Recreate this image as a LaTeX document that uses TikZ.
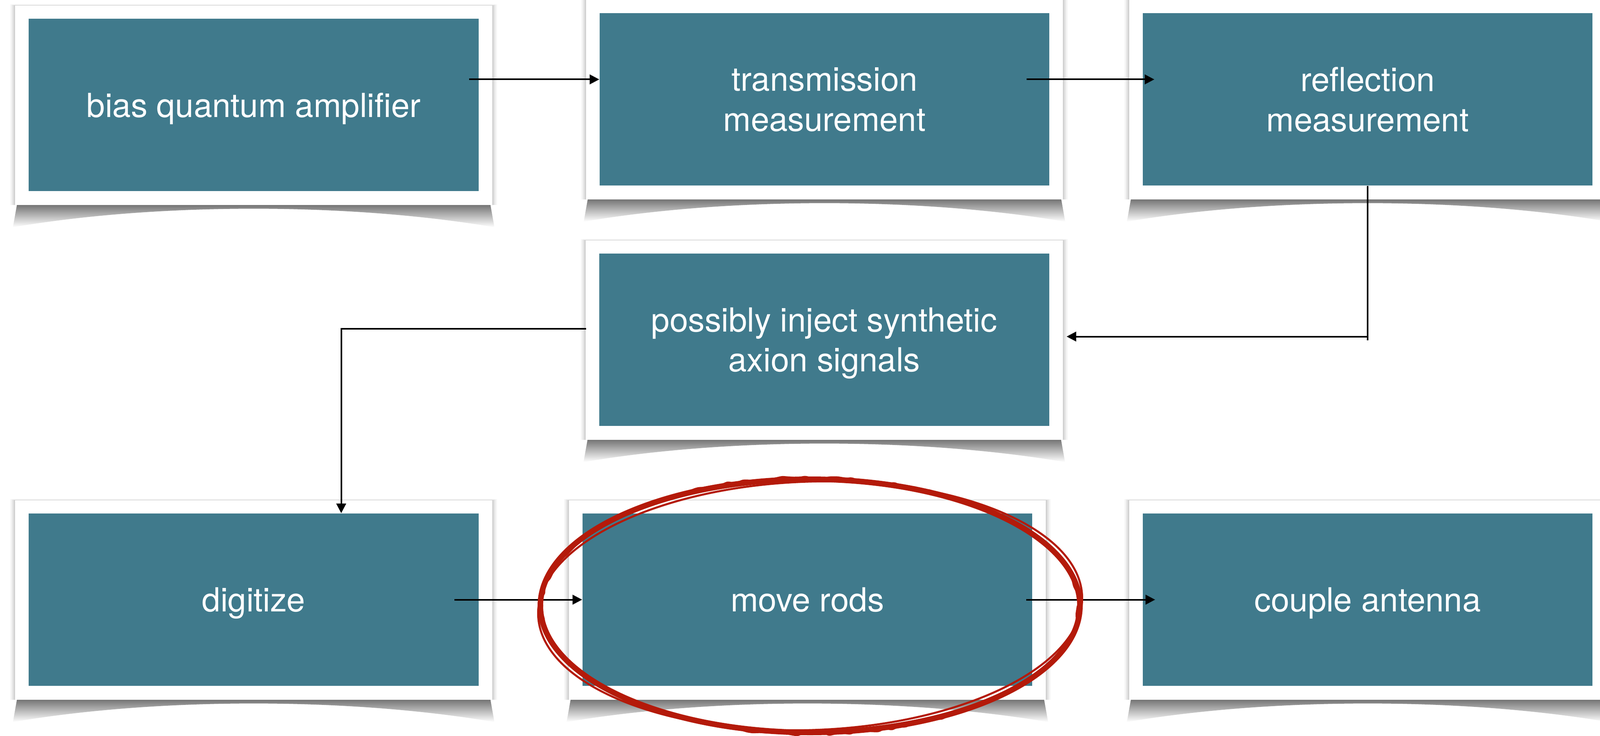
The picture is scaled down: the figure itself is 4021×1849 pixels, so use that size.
\documentclass[tikz,border=0pt]{standalone}
\usepackage{fontspec}
\setmainfont{TeX Gyre Heros}
\usepackage{xcolor}
\usetikzlibrary{arrows.meta, backgrounds, calc, decorations.pathmorphing}
\definecolor{cardteal}{RGB}{64, 122, 140}
\definecolor{markred}{RGB}{180, 26, 10}

\begin{document}
\begin{tikzpicture}[x=0.01cm, y=-0.01cm,
    card/.style={fill=cardteal, text=white, minimum width=11.3cm, minimum height=4.33cm,
      inner sep=0pt, align=center, text depth=0pt, font=\fontsize{23.7pt}{28.5pt}\selectfont},
    flow/.style={line width=0.04cm, -{Triangle[length=0.24cm, width=0.24cm]}},
    wire/.style={line width=0.04cm}]
  \useasboundingbox (0,0) rectangle (4021,1849);

  % steps, top row
  \node[card] (bias)   at (637.5,263.5) {bias quantum amplifier};
  \node[card] (trans)  at (2072,249.5)  {transmission\\measurement};
  \node[card] (refl)   at (3437,249.5)  {reflection\\measurement};
  % middle row
  \node[card] (inject) at (2071.5,853.5) {possibly inject synthetic\\axion signals};
  % bottom row
  \node[card] (dig)    at (637.5,1506.5) {digitize};
  \node[card] (rods)   at (2029,1506.5)  {move rods};
  \node[card] (couple) at (3437,1506.5)  {couple antenna};

  % white frames with curled shadows
  \begin{scope}[on background layer]
    \fill[white] (0,0) rectangle (4021,1849);
    \foreach \n in {bias,trans,refl,inject,dig,rods,couple}{
      \coordinate (tl) at ($(\n.north west)+(-33,-32)$);
      \coordinate (br) at ($(\n.south east)+(33,34)$);
      \shade[top color=black!60, bottom color=white]
        ($(tl |- br)+(4,0)$) -- ++(-10,56)
        .. controls ($(tl |- br)!0.3!(br)+(0,-6)$) and ($(tl |- br)!0.7!(br)+(0,-6)$) .. ($(br)+(6,56)$)
        -- ($(br)+(-4,0)$) -- cycle;
      \foreach \e/\o in {12/0.04, 8/0.06, 4/0.08}
        \fill[black, opacity=\o] ($(tl)+(-\e,-\e*0.3)$) rectangle ($(br)+(\e,0)$);
      \fill[white] (tl) rectangle (br);
    }
  \end{scope}

  % flow between steps
  \draw[flow] ([shift={(-25,-64)}]bias.east) coordinate (b1) -- (b1 -| trans.west);
  \draw[flow] ([shift={(-58,-50)}]trans.east) coordinate (t1) -- ($(t1 -| refl.west)+(30,0)$);
  \draw[wire] (refl.south) -- ++(0,388);
  \draw[flow] (refl.south) |- ($(inject.east)+(43,-8)$);
  \draw[flow] ($(inject.west)+(-32,-28)$) -| ($(dig.north)+(220,0)$);
  \draw[flow] ($(dig.east)+(-62,0)$) -- (rods.west);
  \draw[flow] ($(rods.east)+(-16,0)$) -- ($(couple.west)+(32,0)$);

  % hand-drawn ring round the rods step
  \coordinate (ring) at (2036,1522);
  \draw[markred, line width=0.14cm] (ring) ellipse [x radius=678, y radius=318];
  \draw[markred, line width=0.05cm, rotate around={2:(ring)}] (ring) ellipse [x radius=684, y radius=312];
  \draw[markred, line width=0.04cm, rounded corners=1pt,
    decorate, decoration={random steps, segment length=5pt, amplitude=1.2pt}]
    (ring) ellipse [x radius=672, y radius=322];
\end{tikzpicture}
\end{document}
